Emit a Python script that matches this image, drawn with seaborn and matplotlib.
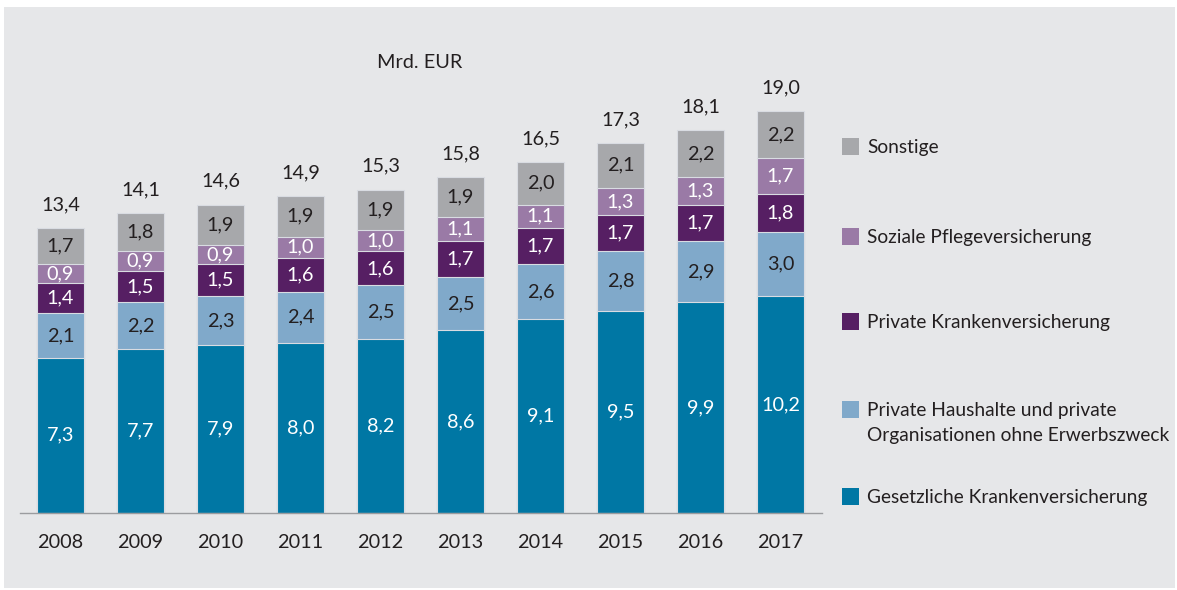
import numpy as np
import pandas as pd
import matplotlib
matplotlib.use("Agg")
import matplotlib.pyplot as plt
from matplotlib.patches import Rectangle
import seaborn as sns

# data (Mrd. EUR)
years = ["2008", "2009", "2010", "2011", "2012", "2013", "2014", "2015", "2016", "2017"]
gkv = [7.3, 7.7, 7.9, 8.0, 8.2, 8.6, 9.1, 9.5, 9.9, 10.2]
haushalte = [2.1, 2.2, 2.3, 2.4, 2.5, 2.5, 2.6, 2.8, 2.9, 3.0]
pkv = [1.4, 1.5, 1.5, 1.6, 1.6, 1.7, 1.7, 1.7, 1.7, 1.8]
pflege = [0.9, 0.9, 0.9, 1.0, 1.0, 1.1, 1.1, 1.3, 1.3, 1.7]
sonstige = [1.7, 1.8, 1.9, 1.9, 1.9, 1.9, 2.0, 2.1, 2.2, 2.2]
totals = [13.4, 14.1, 14.6, 14.9, 15.3, 15.8, 16.5, 17.3, 18.1, 19.0]

series = ["Gesetzliche Krankenversicherung",
          "Private Haushalte und private\nOrganisationen ohne Erwerbszweck",
          "Private Krankenversicherung",
          "Soziale Pflegeversicherung",
          "Sonstige"]
values = [gkv, haushalte, pkv, pflege, sonstige]
colors = ["#0077a4", "#80a9ca", "#561f63", "#9a7aa6", "#a7a8ab"]
text_colors = ["white", "#231f20", "white", "white", "#231f20"]

sns.set_style("white")
plt.rcParams["font.family"] = ["Lato", "DejaVu Sans"]
dark = "#231f20"
fs = 14.3
leg_fs = 13.8

W, H = 1177, 590
fig = plt.figure(figsize=(W / 100, H / 100), dpi=100)
fig.patch.set_facecolor("white")
fig.patches.append(Rectangle((4 / W, 2 / H), (W - 6) / W, (H - 9) / H,
                             transform=fig.transFigure, facecolor="#e6e7e9",
                             edgecolor="none", zorder=-10))

# axes placed in pixel units
ax = fig.add_axes([20 / W, 77 / H, 802 / W, 473 / H])
ax.set_facecolor("none")

df = pd.DataFrame({"year": years})
cum = np.cumsum(np.array(values), axis=0)
bar_w = 0.59
# draw from the top layer down so the lower cumulative bars overlay
for i in range(len(series) - 1, -1, -1):
    df["val"] = cum[i]
    sns.barplot(data=df, x="year", y="val", color=colors[i], width=bar_w,
                saturation=1, edgecolor="#d9dce2", linewidth=0.8, ax=ax)

# segment labels
for i in range(len(series)):
    for j in range(len(years)):
        bottom = cum[i - 1][j] if i > 0 else 0
        mid = bottom + values[i][j] / 2
        ax.text(j, mid, f"{values[i][j]:.1f}".replace(".", ","), ha="center",
                va="center", color=text_colors[i], fontsize=fs)

for j, t in enumerate(totals):
    ax.text(j, cum[-1][j] + 0.7, f"{t:.1f}".replace(".", ","), ha="center",
            va="bottom", color=dark, fontsize=fs)

ax.set_xlim(-0.506, 9.519)
ax.set_ylim(0, 22.24)
ax.set_xlabel("")
ax.set_ylabel("")
ax.set_yticks([])
for s in ["top", "right", "left"]:
    ax.spines[s].set_visible(False)
ax.spines["bottom"].set_color("#9b9c9f")
ax.spines["bottom"].set_linewidth(1.0)
ax.tick_params(axis="x", length=0, pad=15, labelsize=fs, labelcolor=dark)

fig.text(420 / W, 1 - 62 / H, "Mrd. EUR", ha="center", va="center",
         fontsize=fs, color=dark)

# legend drawn by hand to keep the irregular spacing
leg_y = [147, 237, 322, 410, 497]
leg_order = [4, 3, 2, 1, 0]
for y, k in zip(leg_y, leg_order):
    fig.patches.append(Rectangle((842 / W, 1 - (y + 8) / H), 17 / W, 17 / H,
                                 transform=fig.transFigure, facecolor=colors[k],
                                 edgecolor="none"))
    fig.text(867 / W, 1 - (y - 8) / H, series[k], ha="left", va="top",
             fontsize=leg_fs, color=dark, linespacing=1.6)

fig.savefig("out.png", dpi=100)
